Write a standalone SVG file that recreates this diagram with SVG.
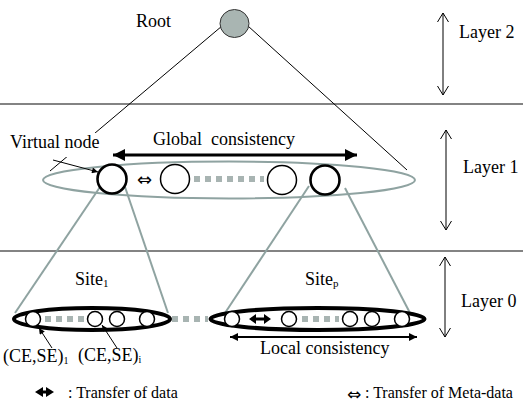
<svg xmlns="http://www.w3.org/2000/svg" width="523" height="408" viewBox="0 0 523 408">
<style>
text{font-family:"Liberation Serif","Times New Roman",serif;fill:#000}
.lbl{font-size:18px}
.leg{font-size:16px}
.sym{font-family:"DejaVu Sans",sans-serif}
.sep{stroke:#5a5a5a;stroke-width:1.5}
.grey{stroke:#8fa3a1;stroke-width:2;fill:none}
.dots{stroke:#a8b4b2;stroke-width:6;stroke-dasharray:6 5}
.n1{fill:#fff;stroke:#000;stroke-width:1.5}
.n2{fill:#fff;stroke:#000;stroke-width:2.6}
.site{fill:none;stroke:#000;stroke-width:4}
.thin{stroke:#000;stroke-width:1}
</style>
<defs>
<marker id="big" markerUnits="userSpaceOnUse" markerWidth="12" markerHeight="12" refX="10" refY="5" orient="auto-start-reverse" viewBox="0 0 10 10"><path d="M0,0 L10,5 L0,10 Z" fill="#000"/></marker>
<marker id="mid" markerUnits="userSpaceOnUse" markerWidth="9" markerHeight="8" refX="10" refY="5" orient="auto-start-reverse" viewBox="0 0 10 10"><path d="M0,0 L10,5 L0,10 Z" fill="#000"/></marker>
<marker id="open" markerUnits="userSpaceOnUse" markerWidth="9" markerHeight="12" refX="9" refY="6" orient="auto-start-reverse" viewBox="0 0 9 12"><path d="M0,0.5 L9,6 L0,11.5" fill="none" stroke="#000" stroke-width="1"/></marker>
<marker id="ptr" markerUnits="userSpaceOnUse" markerWidth="7" markerHeight="6" refX="10" refY="5" orient="auto" viewBox="0 0 10 10"><path d="M0,0 L10,5 L0,10 Z" fill="#000"/></marker>
</defs>
<rect width="523" height="408" fill="#fff"/>

<g id="layers">
<line class="sep" x1="0" y1="104" x2="523" y2="104"/>
<line class="sep" x1="0" y1="251" x2="523" y2="251"/>
<line class="thin" x1="443" y1="13" x2="443" y2="95" marker-start="url(#open)" marker-end="url(#open)"/>
<line class="thin" x1="446" y1="130" x2="446" y2="230" marker-start="url(#open)" marker-end="url(#open)"/>
<line class="thin" x1="445" y1="257" x2="445" y2="337" marker-start="url(#open)" marker-end="url(#open)"/>
<text class="lbl" x="459" y="38">Layer 2</text>
<text class="lbl" x="463" y="173">Layer 1</text>
<text class="lbl" x="461" y="307">Layer 0</text>
</g>

<g id="connectors">
<line class="thin" x1="222" y1="26" x2="50" y2="171"/>
<line class="thin" x1="248" y1="26" x2="407" y2="170"/>
<line class="grey" x1="100" y1="187" x2="15" y2="313"/>
<line class="grey" x1="125" y1="187" x2="168" y2="313"/>
<line class="grey" x1="309" y1="186" x2="225" y2="313"/>
<line class="grey" x1="345" y1="188" x2="410" y2="313"/>
<line x1="113" y1="155" x2="357" y2="155" stroke="#000" stroke-width="3" marker-start="url(#big)" marker-end="url(#big)"/>
<line x1="230" y1="337" x2="417" y2="337" stroke="#000" stroke-width="2" marker-start="url(#mid)" marker-end="url(#mid)"/>
<line class="dots" x1="194" y1="179" x2="264" y2="179"/>
<line class="dots" x1="45" y1="319" x2="86" y2="319"/>
<line class="dots" x1="172" y1="319" x2="208" y2="319"/>
<line class="dots" x1="302" y1="319" x2="339" y2="319"/>
</g>

<g id="root">
<ellipse cx="234.5" cy="23.5" rx="14.5" ry="14" fill="#a9b5b2" stroke="#333" stroke-width="1"/>
<text class="lbl" x="136" y="27">Root</text>
</g>

<g id="layer1">
<ellipse cx="229" cy="180" rx="186" ry="18.5" class="grey"/>
<circle class="n2" cx="112" cy="179" r="14.5"/>
<circle class="n1" cx="175" cy="179" r="14.5"/>
<circle class="n1" cx="282" cy="180" r="14.5"/>
<circle class="n2" cx="325" cy="180" r="14.5"/>
<text class="sym" x="137" y="186" font-size="18">⇔</text>
<text class="lbl" x="153" y="145" xml:space="preserve">Global  consistency</text>
</g>

<g id="virtual-node-label">
<rect x="8" y="133" width="96" height="24" fill="#fff"/>
<text class="lbl" x="10" y="148">Virtual node</text>
<line class="thin" x1="53" y1="160" x2="98" y2="172" marker-end="url(#ptr)"/>
</g>

<g id="site1">
<ellipse class="site" cx="92" cy="319" rx="78" ry="11"/>
<circle class="n1" cx="33" cy="319" r="7.5" stroke-width="2"/>
<circle class="n1" cx="95" cy="319" r="7.5"/>
<circle class="n1" cx="117" cy="319" r="7.5"/>
<circle class="n1" cx="147" cy="319" r="7.5" stroke-width="2"/>
<text class="lbl" x="75" y="285">Site<tspan font-size="11" dy="2">1</tspan></text>
</g>

<g id="sitep">
<ellipse class="site" cx="317.5" cy="319" rx="107" ry="11"/>
<circle class="n1" cx="232" cy="319" r="7.5" stroke-width="2"/>
<circle class="n1" cx="289" cy="319" r="7.5"/>
<circle class="n1" cx="350" cy="319" r="7.5"/>
<circle class="n1" cx="372" cy="319" r="7.5"/>
<circle class="n1" cx="402" cy="319" r="7.5" stroke-width="2"/>
<path d="M249,319 L256,314 L256,317.5 L264,317.5 L264,314 L271,319 L264,324 L264,320.5 L256,320.5 L256,324 Z" fill="#000"/>
<text class="lbl" x="305" y="285">Site<tspan font-size="11" dy="2">p</tspan></text>
<text class="lbl" x="260" y="354">Local consistency</text>
</g>

<g id="ce-labels">
<line class="thin" x1="52" y1="348" x2="39" y2="328" marker-end="url(#ptr)"/>
<line class="thin" x1="117" y1="348" x2="102" y2="325" marker-end="url(#ptr)"/>
<text class="lbl" x="3" y="362" font-size="17">(CE,SE)<tspan font-size="10" dy="2">1</tspan></text>
<text class="lbl" x="78" y="361" font-size="17">(CE,SE)<tspan font-size="10" dy="2">i</tspan></text>
</g>

<g id="legend">
<path d="M35,392 L43,387 L43,390.5 L46,390.5 L46,387 L54,392 L46,397 L46,393.5 L43,393.5 L43,397 Z" fill="#000"/>
<text class="leg" x="68" y="398">: Transfer of data</text>
<text class="sym" x="347" y="400" font-size="17">⇔</text>
<text class="leg" x="365" y="398">: Transfer of Meta-data</text>
</g>
</svg>
